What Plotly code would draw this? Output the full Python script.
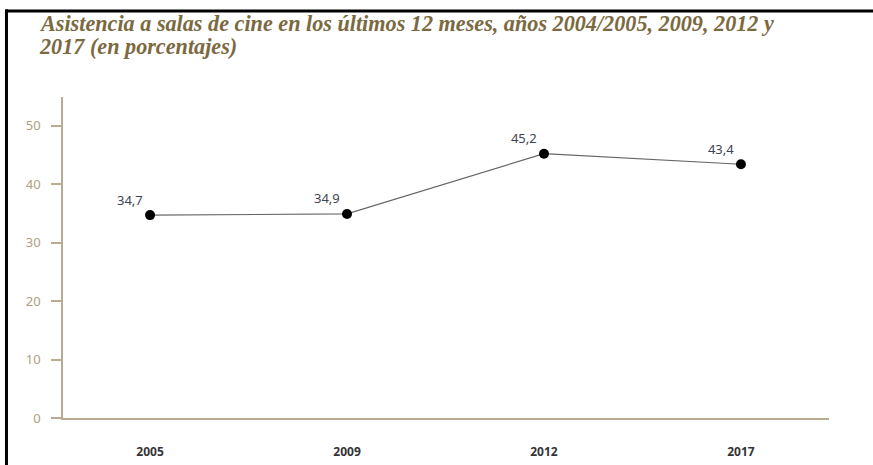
import plotly.graph_objects as go

# Data
years = ["2005", "2009", "2012", "2017"]
asistencia = [34.7, 34.9, 45.2, 43.4]
etiquetas = ["34,7", "34,9", "45,2", "43,4"]
y_ticks = [0, 10, 20, 30, 40, 50]
titulo = ["Asistencia a salas de cine en los últimos 12 meses, años 2004/2005, 2009, 2012 y",
          "2017 (en porcentajes)"]

TAN = "#b8ab92"
TAN_TEXT = "#ad9f80"

pos = list(range(len(years)))

fig = go.Figure()

fig.add_trace(go.Scatter(
    x=pos,
    y=asistencia,
    mode="lines+markers+text",
    text=etiquetas,
    textposition="top left",
    textfont=dict(family="Noto Sans", size=13, color="#3d4452"),
    line=dict(color="#666666", width=1.2),
    marker=dict(color="black", size=10),
    cliponaxis=False,
    showlegend=False,
))

# title: two left-aligned lines, tight line spacing
for linea, yy in zip(titulo, [1.2276, 1.1559]):
    fig.add_annotation(
        text=linea,
        xref="paper", yref="paper",
        x=-0.034, y=yy,
        xanchor="left", yanchor="middle",
        showarrow=False,
        font=dict(family="Liberation Serif", size=22.2, color="#7b6940",
                  weight="bold", style="italic"),
    )

# black frame on top and left of the image
fig.add_shape(type="line", xref="paper", yref="paper",
              x0=-0.0738, x1=1.1, y0=1.268, y1=1.268,
              line=dict(color="black", width=3))
fig.add_shape(type="line", xref="paper", yref="paper",
              x0=-0.0738, x1=-0.0738, y0=1.273, y1=-0.16,
              line=dict(color="black", width=3))

fig.update_layout(
    width=873,
    height=465,
    margin=dict(l=63, r=44, t=97, b=47),
    paper_bgcolor="white",
    plot_bgcolor="white",
    xaxis=dict(
        range=[-0.442, 3.447],
        tickvals=pos,
        ticktext=years,
        showline=True,
        linecolor=TAN,
        linewidth=2,
        showgrid=False,
        zeroline=False,
        ticks="",
        automargin=False,
        ticklabelstandoff=22,
        tickfont=dict(family="Noto Sans", size=12, color="#333333", weight="bold"),
    ),
    yaxis=dict(
        range=[0, 54.9],
        tickvals=y_ticks,
        showline=True,
        linecolor=TAN,
        linewidth=1.5,
        showgrid=False,
        zeroline=False,
        ticks="outside",
        ticklen=10,
        tickcolor=TAN,
        tickwidth=1.5,
        automargin=False,
        ticklabelstandoff=8,
        tickfont=dict(family="Noto Sans", size=13, color=TAN_TEXT),
    ),
)

fig.write_html("out.html", config={"displayModeBar": False},
               post_script="document.body.style.margin='0';")
